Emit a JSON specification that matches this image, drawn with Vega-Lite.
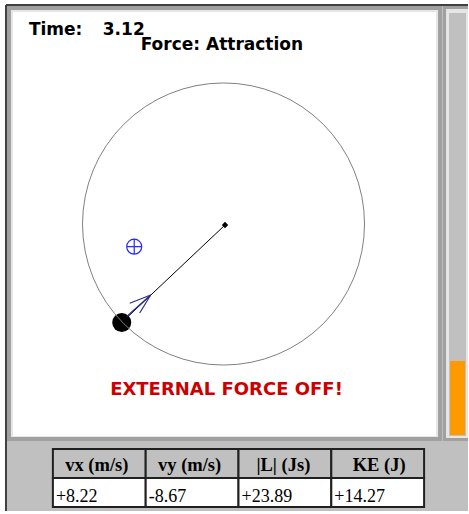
{
  "$schema": "https://vega.github.io/schema/vega-lite/v6.json",
  "width": 469,
  "height": 514,
  "autosize": {"type": "fit", "contains": "padding"},
  "padding": 0,
  "background": "#ffffff",
  "config": {"view": {"stroke": null}},
  "datasets": {
    "frame": [
      {"part": "outer", "x0": 6, "x1": 469, "y0": 5, "y1": 511},
      {"part": "bevelDark", "x0": 7, "x1": 443, "y0": 6, "y1": 441},
      {"part": "bevelLight", "x0": 11, "x1": 439, "y0": 10, "y1": 437},
      {"part": "panel", "x0": 13, "x1": 437, "y0": 12, "y1": 436},
      {"part": "scrollDark", "x0": 444, "x1": 469, "y0": 6, "y1": 441},
      {"part": "scrollLight", "x0": 447, "x1": 469, "y0": 9, "y1": 438},
      {"part": "track", "x0": 450, "x1": 467, "y0": 13, "y1": 436},
      {"part": "level", "x0": 451, "x1": 466, "y0": 361, "y1": 435}
    ],
    "edges": [
      {"edge": "top", "x0": 6, "y0": 5, "x1": 469, "y1": 5},
      {"edge": "left", "x0": 6, "y0": 5, "x1": 6, "y1": 511}
    ],
    "cells": [
      {"row": "header", "x0": 53, "x1": 146, "y0": 449, "y1": 478, "cx": 97, "tx": 57, "ty": 471, "text": "vx (m/s)"},
      {"row": "header", "x0": 146, "x1": 239, "y0": 449, "y1": 478, "cx": 190, "tx": 150, "ty": 471, "text": "vy (m/s)"},
      {"row": "header", "x0": 239, "x1": 332, "y0": 449, "y1": 478, "cx": 284, "tx": 243, "ty": 471, "text": "|L| (Js)"},
      {"row": "header", "x0": 332, "x1": 425, "y0": 449, "y1": 478, "cx": 380, "tx": 336, "ty": 471, "text": "KE (J)"},
      {"row": "value", "x0": 53, "x1": 146, "y0": 478, "y1": 507, "cx": 99.5, "tx": 56, "ty": 502, "text": "+8.22"},
      {"row": "value", "x0": 146, "x1": 239, "y0": 478, "y1": 507, "cx": 192.5, "tx": 149, "ty": 502, "text": "-8.67"},
      {"row": "value", "x0": 239, "x1": 332, "y0": 478, "y1": 507, "cx": 285.5, "tx": 242, "ty": 502, "text": "+23.89"},
      {"row": "value", "x0": 332, "x1": 425, "y0": 478, "y1": 507, "cx": 378.5, "tx": 335, "ty": 502, "text": "+14.27"}
    ],
    "titles": [
      {"x": 29, "y": 35, "text": "Time:"},
      {"x": 103, "y": 35, "text": "3.12"},
      {"x": 141, "y": 50, "text": "Force: Attraction"}
    ],
    "status": [{"x": 227, "y": 395, "text": "EXTERNAL FORCE OFF!"}],
    "radius": [{"x0": 225.5, "y0": 225, "x1": 122, "y1": 322.5}],
    "orbit": [{"x": 224, "y": 224}],
    "ball": [{"x": 122, "y": 322.5}],
    "pivot": [{"x": 225.5, "y": 225}],
    "cm": [{"x": 134.5, "y": 246.7}],
    "arrow": [
      {"seg": "shaft", "x0": 127, "y0": 316.5, "x1": 151, "y1": 295},
      {"seg": "barb1", "x0": 151, "y0": 295, "x1": 130, "y1": 303.3},
      {"seg": "barb2", "x0": 151, "y0": 295, "x1": 140, "y1": 313}
    ]
  },
  "resolve": {"scale": {"color": "independent"}},
  "layer": [
    {
      "data": {"name": "frame"},
      "mark": {"type": "rect"},
      "encoding": {
        "x": {"field": "x0", "type": "quantitative", "scale": {"domain": [0, 469], "nice": false, "zero": false}, "axis": null},
        "x2": {"field": "x1"},
        "y": {"field": "y0", "type": "quantitative", "scale": {"domain": [0, 514], "reverse": true, "nice": false, "zero": false}, "axis": null},
        "y2": {"field": "y1"},
        "color": {"field": "part", "type": "nominal", "legend": null,
          "scale": {"domain": ["outer", "bevelDark", "bevelLight", "panel", "scrollDark", "scrollLight", "track", "level"],
                    "range": ["#c0c0c0", "#a0a0a0", "#e6e6e6", "#ffffff", "#a0a0a0", "#e6e6e6", "#c0c0c0", "#ff9900"]}}
      }
    },
    {
      "data": {"name": "edges"},
      "mark": {"type": "rule", "color": "#404040", "strokeWidth": 2},
      "encoding": {
        "x": {"field": "x0", "type": "quantitative", "scale": {"domain": [0, 469], "nice": false, "zero": false}, "axis": null},
        "x2": {"field": "x1"},
        "y": {"field": "y0", "type": "quantitative", "scale": {"domain": [0, 514], "reverse": true, "nice": false, "zero": false}, "axis": null},
        "y2": {"field": "y1"}
      }
    },
    {
      "data": {"name": "cells"},
      "mark": {"type": "rect", "stroke": "#202020", "strokeWidth": 2},
      "encoding": {
        "x": {"field": "x0", "type": "quantitative", "scale": {"domain": [0, 469], "nice": false, "zero": false}, "axis": null},
        "x2": {"field": "x1"},
        "y": {"field": "y0", "type": "quantitative", "scale": {"domain": [0, 514], "reverse": true, "nice": false, "zero": false}, "axis": null},
        "y2": {"field": "y1"},
        "color": {"field": "row", "type": "nominal", "legend": null,
          "scale": {"domain": ["header", "value"], "range": ["#c0c0c0", "#ffffff"]}}
      }
    },
    {
      "data": {"name": "cells"},
      "transform": [{"filter": "datum.row === 'header'"}],
      "mark": {"type": "text", "font": "Liberation Serif", "fontWeight": "bold", "fontSize": 18.5, "align": "center", "baseline": "alphabetic", "color": "#000000"},
      "encoding": {
        "x": {"field": "cx", "type": "quantitative", "scale": {"domain": [0, 469], "nice": false, "zero": false}, "axis": null},
        "y": {"field": "ty", "type": "quantitative", "scale": {"domain": [0, 514], "reverse": true, "nice": false, "zero": false}, "axis": null},
        "text": {"field": "text"}
      }
    },
    {
      "data": {"name": "cells"},
      "transform": [{"filter": "datum.row === 'value'"}],
      "mark": {"type": "text", "font": "Liberation Serif", "fontSize": 18, "align": "left", "baseline": "alphabetic", "color": "#000000"},
      "encoding": {
        "x": {"field": "tx", "type": "quantitative", "scale": {"domain": [0, 469], "nice": false, "zero": false}, "axis": null},
        "y": {"field": "ty", "type": "quantitative", "scale": {"domain": [0, 514], "reverse": true, "nice": false, "zero": false}, "axis": null},
        "text": {"field": "text"}
      }
    },
    {
      "data": {"name": "titles"},
      "mark": {"type": "text", "font": "DejaVu Sans", "fontWeight": "bold", "fontSize": 17, "align": "left", "baseline": "alphabetic", "color": "#000000"},
      "encoding": {
        "x": {"field": "x", "type": "quantitative", "scale": {"domain": [0, 469], "nice": false, "zero": false}, "axis": null},
        "y": {"field": "y", "type": "quantitative", "scale": {"domain": [0, 514], "reverse": true, "nice": false, "zero": false}, "axis": null},
        "text": {"field": "text"}
      }
    },
    {
      "data": {"name": "status"},
      "mark": {"type": "text", "font": "DejaVu Sans", "fontWeight": "bold", "fontSize": 18, "align": "center", "baseline": "alphabetic", "color": "#cc0000"},
      "encoding": {
        "x": {"field": "x", "type": "quantitative", "scale": {"domain": [0, 469], "nice": false, "zero": false}, "axis": null},
        "y": {"field": "y", "type": "quantitative", "scale": {"domain": [0, 514], "reverse": true, "nice": false, "zero": false}, "axis": null},
        "text": {"field": "text"}
      }
    },
    {
      "data": {"name": "radius"},
      "mark": {"type": "rule", "color": "#000000", "strokeWidth": 1},
      "encoding": {
        "x": {"field": "x0", "type": "quantitative", "scale": {"domain": [0, 469], "nice": false, "zero": false}, "axis": null},
        "x2": {"field": "x1"},
        "y": {"field": "y0", "type": "quantitative", "scale": {"domain": [0, 514], "reverse": true, "nice": false, "zero": false}, "axis": null},
        "y2": {"field": "y1"}
      }
    },
    {
      "data": {"name": "ball"},
      "mark": {"type": "point", "shape": "circle", "filled": true, "color": "#000000", "opacity": 1, "size": 361},
      "encoding": {
        "x": {"field": "x", "type": "quantitative", "scale": {"domain": [0, 469], "nice": false, "zero": false}, "axis": null},
        "y": {"field": "y", "type": "quantitative", "scale": {"domain": [0, 514], "reverse": true, "nice": false, "zero": false}, "axis": null}
      }
    },
    {
      "data": {"name": "orbit"},
      "mark": {"type": "point", "shape": "circle", "filled": false, "color": "#808080", "opacity": 1, "strokeWidth": 1, "size": 79524},
      "encoding": {
        "x": {"field": "x", "type": "quantitative", "scale": {"domain": [0, 469], "nice": false, "zero": false}, "axis": null},
        "y": {"field": "y", "type": "quantitative", "scale": {"domain": [0, 514], "reverse": true, "nice": false, "zero": false}, "axis": null}
      }
    },
    {
      "data": {"name": "pivot"},
      "mark": {"type": "point", "shape": "diamond", "filled": true, "color": "#000000", "opacity": 1, "size": 40},
      "encoding": {
        "x": {"field": "x", "type": "quantitative", "scale": {"domain": [0, 469], "nice": false, "zero": false}, "axis": null},
        "y": {"field": "y", "type": "quantitative", "scale": {"domain": [0, 514], "reverse": true, "nice": false, "zero": false}, "axis": null}
      }
    },
    {
      "data": {"name": "cm"},
      "mark": {"type": "point", "shape": "M-1,0A1,1,0,1,1,1,0A1,1,0,1,1,-1,0ZM-1,0L1,0M0,-1L0,1", "filled": false, "color": "#2a2aff", "opacity": 1, "strokeWidth": 1.2, "size": 225},
      "encoding": {
        "x": {"field": "x", "type": "quantitative", "scale": {"domain": [0, 469], "nice": false, "zero": false}, "axis": null},
        "y": {"field": "y", "type": "quantitative", "scale": {"domain": [0, 514], "reverse": true, "nice": false, "zero": false}, "axis": null}
      }
    },
    {
      "data": {"name": "arrow"},
      "mark": {"type": "rule", "color": "#2a2a90", "strokeWidth": 1.2},
      "encoding": {
        "x": {"field": "x0", "type": "quantitative", "scale": {"domain": [0, 469], "nice": false, "zero": false}, "axis": null},
        "x2": {"field": "x1"},
        "y": {"field": "y0", "type": "quantitative", "scale": {"domain": [0, 514], "reverse": true, "nice": false, "zero": false}, "axis": null},
        "y2": {"field": "y1"}
      }
    }
  ]
}
